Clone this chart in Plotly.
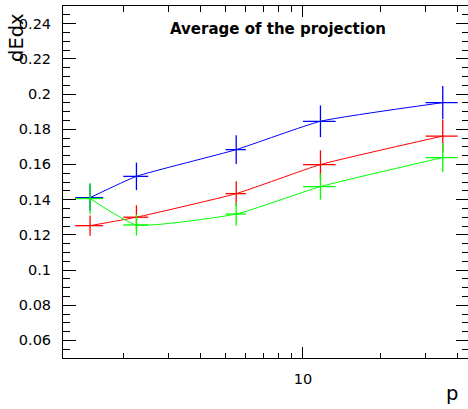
import plotly.graph_objects as go
import numpy as np

# ---- data ----
p = [1.485, 2.25, 5.5, 11.7, 35.0]
p_err = [0.185, 0.25, 0.5, 1.7, 5.0]
blue_vals = [0.1411, 0.1532, 0.1684, 0.1845, 0.1951]
blue_err = [0.0075, 0.0078, 0.0082, 0.0090, 0.0095]
red_vals = [0.1252, 0.1300, 0.1434, 0.1599, 0.1761]
red_err = [0.0057, 0.0068, 0.0070, 0.0081, 0.0093]
green_vals = [0.1406, 0.1256, 0.1318, 0.1474, 0.1639]
green_err = [0.0089, 0.0060, 0.0066, 0.0074, 0.0083]

y_tickvals = [0.06, 0.08, 0.10, 0.12, 0.14, 0.16, 0.18, 0.20, 0.22, 0.24]
y_ticktext = ["0.06", "0.08", "0.1", "0.12", "0.14", "0.16", "0.18", "0.2", "0.22", "0.24"]
x_tickvals = [10]
x_ticktext = ["10"]
x_minor = [2, 3, 4, 5, 6, 7, 8, 9, 20, 30, 40]

title_text = "Average of the projection"
x_title = "p"
y_title = "dEdx"

W, H = 468, 409
L, R, T, B = 63, 0, 6, 51
pw, ph = W - L - R, H - T - B

FONT = "DejaVu Sans"

fig = go.Figure()
for vals, errs, col in [(blue_vals, blue_err, "#0000ff"),
                        (red_vals, red_err, "#ff0000"),
                        (green_vals, green_err, "#00ff00")]:
    fig.add_trace(go.Scatter(
        x=p, y=vals, mode="lines",
        line=dict(color=col, width=1, shape="spline", smoothing=0.45),
        error_x=dict(type="data", array=p_err, color=col, thickness=1.3, width=0),
        error_y=dict(type="data", array=errs, color=col, thickness=1.3, width=0),
        showlegend=False,
    ))

def px2paper_x(px):
    return (px - L) / pw

def px2paper_y(py):
    return (H - B - py) / ph

fig.update_layout(
    width=W, height=H,
    margin=dict(l=L, r=R, t=T, b=B),
    paper_bgcolor="white", plot_bgcolor="white",
    font=dict(family=FONT, size=14.5, color="black"),
    xaxis=dict(
        type="log", range=[0.0664, 1.6423],
        tickvals=x_tickvals, ticktext=x_ticktext,
        ticks="inside", ticklen=11, tickcolor="black", tickwidth=1,
        minor=dict(tickvals=x_minor, ticks="inside", ticklen=5.5, tickcolor="black", tickwidth=1),
        showline=True, linecolor="black", linewidth=1, mirror="allticks",
        showgrid=False, zeroline=False, ticklabelstandoff=8,
        tickfont=dict(family=FONT, size=14.5),
    ),
    yaxis=dict(
        range=[0.05, 0.25],
        tickvals=y_tickvals, ticktext=y_ticktext,
        ticks="inside", ticklen=12.5, tickcolor="black", tickwidth=1,
        minor=dict(dtick=0.005, tick0=0, ticks="inside", ticklen=6.5, tickcolor="black", tickwidth=1),
        showline=True, linecolor="black", linewidth=1, mirror="allticks",
        showgrid=False, zeroline=False, ticklabelstandoff=8,
        tickfont=dict(family=FONT, size=14.5),
    ),
    annotations=[
        dict(text="<b>" + title_text + "</b>", xref="paper", yref="paper",
             x=px2paper_x(277.5), y=px2paper_y(29), xanchor="center", yanchor="middle",
             showarrow=False, font=dict(family=FONT, size=15, color="black")),
        dict(text=y_title, xref="paper", yref="paper", textangle=-90,
             x=px2paper_x(16), y=px2paper_y(38), xanchor="center", yanchor="middle",
             showarrow=False, font=dict(family=FONT, size=19.5, color="black")),
        dict(text=x_title, xref="paper", yref="paper",
             x=px2paper_x(452), y=px2paper_y(393), xanchor="center", yanchor="middle",
             showarrow=False, font=dict(family=FONT, size=19.5, color="black")),
    ],
)

fig.write_html("out.html")
